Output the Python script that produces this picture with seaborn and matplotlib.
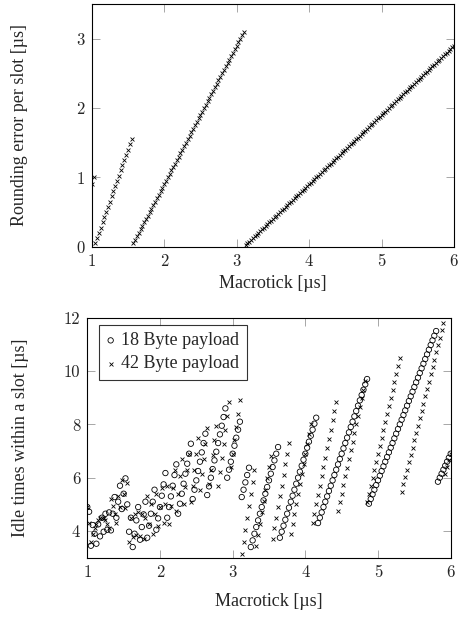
import matplotlib
matplotlib.use("Agg")
import matplotlib.pyplot as plt
import seaborn as sns
import pandas as pd

# macrotick grid (µs)
macrotick = [
    1.0, 1.025, 1.05, 1.075, 1.1, 1.125, 1.15, 1.175, 1.2, 1.225,
    1.25, 1.275, 1.3, 1.325, 1.35, 1.375, 1.4, 1.425, 1.45, 1.475,
    1.5, 1.525, 1.55, 1.575, 1.6, 1.625, 1.65, 1.675, 1.7, 1.725,
    1.75, 1.775, 1.8, 1.825, 1.85, 1.875, 1.9, 1.925, 1.95, 1.975,
    2.0, 2.025, 2.05, 2.075, 2.1, 2.125, 2.15, 2.175, 2.2, 2.225,
    2.25, 2.275, 2.3, 2.325, 2.35, 2.375, 2.4, 2.425, 2.45, 2.475,
    2.5, 2.525, 2.55, 2.575, 2.6, 2.625, 2.65, 2.675, 2.7, 2.725,
    2.75, 2.775, 2.8, 2.825, 2.85, 2.875, 2.9, 2.925, 2.95, 2.975,
    3.0, 3.025, 3.05, 3.075, 3.1, 3.125, 3.15, 3.175, 3.2, 3.225,
    3.25, 3.275, 3.3, 3.325, 3.35, 3.375, 3.4, 3.425, 3.45, 3.475,
    3.5, 3.525, 3.55, 3.575, 3.6, 3.625, 3.65, 3.675, 3.7, 3.725,
    3.75, 3.775, 3.8, 3.825, 3.85, 3.875, 3.9, 3.925, 3.95, 3.975,
    4.0, 4.025, 4.05, 4.075, 4.1, 4.125, 4.15, 4.175, 4.2, 4.225,
    4.25, 4.275, 4.3, 4.325, 4.35, 4.375, 4.4, 4.425, 4.45, 4.475,
    4.5, 4.525, 4.55, 4.575, 4.6, 4.625, 4.65, 4.675, 4.7, 4.725,
    4.75, 4.775, 4.8, 4.825, 4.85, 4.875, 4.9, 4.925, 4.95, 4.975,
    5.0, 5.025, 5.05, 5.075, 5.1, 5.125, 5.15, 5.175, 5.2, 5.225,
    5.25, 5.275, 5.3, 5.325, 5.35, 5.375, 5.4, 5.425, 5.45, 5.475,
    5.5, 5.525, 5.55, 5.575, 5.6, 5.625, 5.65, 5.675, 5.7, 5.725,
    5.75, 5.775, 5.8, 5.825, 5.85, 5.875, 5.9, 5.925, 5.95, 5.975,
    6.0,
]

# rounding error per slot (µs)
rounding_error = [
    0.9, 1.0, 0.05, 0.125, 0.2, 0.275, 0.35, 0.425, 0.5, 0.575,
    0.65, 0.725, 0.8, 0.875, 0.95, 1.025, 1.1, 1.175, 1.25, 1.325,
    1.4, 1.475, 1.55, 0.05, 0.1, 0.15, 0.2, 0.25, 0.3, 0.35,
    0.4, 0.45, 0.5, 0.55, 0.6, 0.65, 0.7, 0.75, 0.8, 0.85,
    0.9, 0.95, 1.0, 1.05, 1.1, 1.15, 1.2, 1.25, 1.3, 1.35,
    1.4, 1.45, 1.5, 1.55, 1.6, 1.65, 1.7, 1.75, 1.8, 1.85,
    1.9, 1.95, 2.0, 2.05, 2.1, 2.15, 2.2, 2.25, 2.3, 2.35,
    2.4, 2.45, 2.5, 2.55, 2.6, 2.65, 2.7, 2.75, 2.8, 2.85,
    2.9, 2.95, 3.0, 3.05, 3.1, 0.025, 0.05, 0.075, 0.1, 0.125,
    0.15, 0.175, 0.2, 0.225, 0.25, 0.275, 0.3, 0.325, 0.35, 0.375,
    0.4, 0.425, 0.45, 0.475, 0.5, 0.525, 0.55, 0.575, 0.6, 0.625,
    0.65, 0.675, 0.7, 0.725, 0.75, 0.775, 0.8, 0.825, 0.85, 0.875,
    0.9, 0.925, 0.95, 0.975, 1.0, 1.025, 1.05, 1.075, 1.1, 1.125,
    1.15, 1.175, 1.2, 1.225, 1.25, 1.275, 1.3, 1.325, 1.35, 1.375,
    1.4, 1.425, 1.45, 1.475, 1.5, 1.525, 1.55, 1.575, 1.6, 1.625,
    1.65, 1.675, 1.7, 1.725, 1.75, 1.775, 1.8, 1.825, 1.85, 1.875,
    1.9, 1.925, 1.95, 1.975, 2.0, 2.025, 2.05, 2.075, 2.1, 2.125,
    2.15, 2.175, 2.2, 2.225, 2.25, 2.275, 2.3, 2.325, 2.35, 2.375,
    2.4, 2.425, 2.45, 2.475, 2.5, 2.525, 2.55, 2.575, 2.6, 2.625,
    2.65, 2.675, 2.7, 2.725, 2.75, 2.775, 2.8, 2.825, 2.85, 2.875,
    2.9,
]

# idle time within a slot (µs), 18 byte payload
idle_18 = [
    4.9, 4.725, 3.45, 4.225, 3.9, 3.525, 4.25, 3.8, 4.5, 3.975,
    4.65, 4.05, 4.7, 4.025, 4.65, 5.275, 4.5, 5.1, 5.7, 4.825,
    5.4, 5.975, 5.0, 3.975, 4.5, 3.4, 3.9, 4.4, 4.9, 3.675,
    4.15, 4.625, 5.1, 3.75, 4.2, 4.65, 5.1, 5.55, 4.05, 4.475,
    4.9, 5.325, 5.75, 6.175, 4.5, 4.9, 5.3, 5.7, 6.1, 6.5,
    4.65, 5.025, 5.4, 5.775, 6.15, 6.525, 6.9, 7.275, 5.2, 5.55,
    5.9, 6.25, 6.6, 6.95, 7.3, 7.65, 5.35, 5.675, 6.0, 6.325,
    6.65, 6.975, 7.3, 7.625, 7.95, 8.275, 8.6, 6.0, 6.3, 6.6,
    6.9, 7.2, 7.5, 7.8, 8.1, 5.275, 5.55, 5.825, 6.1, 6.375,
    3.4, 3.65, 3.9, 4.15, 4.4, 4.65, 4.9, 5.15, 5.4, 5.65,
    5.9, 6.15, 6.4, 6.65, 6.9, 7.15, 3.75, 3.975, 4.2, 4.425,
    4.65, 4.875, 5.1, 5.325, 5.55, 5.775, 6.0, 6.225, 6.45, 6.675,
    6.9, 7.125, 7.35, 7.575, 7.8, 8.025, 8.25, 4.3, 4.5, 4.7,
    4.9, 5.1, 5.3, 5.5, 5.7, 5.9, 6.1, 6.3, 6.5, 6.7,
    6.9, 7.1, 7.3, 7.5, 7.7, 7.9, 8.1, 8.3, 8.5, 8.7,
    8.9, 9.1, 9.3, 9.5, 9.7, 5.025, 5.2, 5.375, 5.55, 5.725,
    5.9, 6.075, 6.25, 6.425, 6.6, 6.775, 6.95, 7.125, 7.3, 7.475,
    7.65, 7.825, 8.0, 8.175, 8.35, 8.525, 8.7, 8.875, 9.05, 9.225,
    9.4, 9.575, 9.75, 9.925, 10.1, 10.275, 10.45, 10.625, 10.8, 10.975,
    11.15, 11.325, 11.5, 5.85, 6.0, 6.15, 6.3, 6.45, 6.6, 6.75,
    6.9,
]

# idle time within a slot (µs), 42 byte payload
idle_42 = [
    4.9, 4.3, 3.6, 3.875, 4.1, 4.275, 4.4, 4.475, 4.5, 4.475,
    4.4, 4.275, 4.1, 5.2, 4.95, 4.65, 4.3, 5.325, 4.9, 5.9,
    5.4, 4.85, 5.8, 3.6, 4.5, 3.775, 4.65, 3.85, 4.7, 3.825,
    4.65, 3.7, 4.5, 5.3, 4.25, 5.025, 3.9, 4.65, 5.4, 4.175,
    4.9, 5.625, 4.3, 5.0, 5.7, 4.275, 4.95, 5.625, 6.3, 4.75,
    5.4, 6.05, 6.7, 5.025, 5.65, 6.275, 6.9, 5.1, 5.7, 6.3,
    6.9, 7.5, 5.55, 6.125, 6.7, 7.275, 7.85, 5.75, 6.3, 6.85,
    7.4, 7.95, 5.7, 6.225, 6.75, 7.275, 7.8, 8.325, 8.85, 6.4,
    6.9, 7.4, 7.9, 8.4, 8.9, 3.15, 3.6, 4.05, 4.5, 4.95,
    5.4, 5.85, 6.3, 3.425, 3.85, 4.275, 4.7, 5.125, 5.55, 5.975,
    6.4, 6.825, 3.7, 4.1, 4.5, 4.9, 5.3, 5.7, 6.1, 6.5,
    6.9, 7.3, 3.9, 4.275, 4.65, 5.025, 5.4, 5.775, 6.15, 6.525,
    6.9, 7.275, 7.65, 8.025, 4.3, 4.65, 5.0, 5.35, 5.7, 6.05,
    6.4, 6.75, 7.1, 7.45, 7.8, 8.15, 8.5, 8.85, 4.75, 5.075,
    5.4, 5.725, 6.05, 6.375, 6.7, 7.025, 7.35, 7.675, 8.0, 8.325,
    8.65, 8.975, 9.3, 9.625, 5.1, 5.4, 5.7, 6.0, 6.3, 6.6,
    6.9, 7.2, 7.5, 7.8, 8.1, 8.4, 8.7, 9.0, 9.3, 9.6,
    9.9, 10.2, 10.5, 5.475, 5.75, 6.025, 6.3, 6.575, 6.85, 7.125,
    7.4, 7.675, 7.95, 8.225, 8.5, 8.775, 9.05, 9.325, 9.6, 9.875,
    10.15, 10.425, 10.7, 10.975, 11.25, 11.525, 11.8, 6.15, 6.4, 6.65,
    6.9,
]

df_top = pd.DataFrame({"Macrotick": macrotick, "Error": rounding_error})
df_idle = pd.DataFrame({"Macrotick": macrotick, "Idle18": idle_18, "Idle42": idle_42})

sns.set_theme(style="ticks")
plt.rcParams["font.family"] = ["Liberation Serif", "DejaVu Serif"]

fig = plt.figure(figsize=(4.58, 6.21), dpi=100)
ax1 = fig.add_axes([0.2002, 0.6027, 0.7910, 0.3908])
ax2 = fig.add_axes([0.1906, 0.1019, 0.7934, 0.3865])

sns.scatterplot(data=df_top, x="Macrotick", y="Error", marker="x", s=8,
                color="black", linewidth=0.6, ax=ax1, legend=False)
sns.scatterplot(data=df_idle, x="Macrotick", y="Idle18", marker="o", s=15,
                facecolor="none", edgecolor="black", linewidth=0.6, ax=ax2,
                label="18 Byte payload")
sns.scatterplot(data=df_idle, x="Macrotick", y="Idle42", marker="x", s=8,
                color="black", linewidth=0.6, ax=ax2, label="42 Byte payload")

ax1.set_xlim(1, 6)
ax1.set_ylim(0, 3.5)
ax1.set_xticks([1, 2, 3, 4, 5, 6])
ax1.set_yticks([0, 1, 2, 3])
ax2.set_xlim(1, 6)
ax2.set_ylim(3, 12)
ax2.set_xticks([1, 2, 3, 4, 5, 6])
ax2.set_yticks([4, 6, 8, 10, 12])

for ax in (ax1, ax2):
    for sp in ax.spines.values():
        sp.set_visible(True)
        sp.set_linewidth(0.8)
        sp.set_color("black")
    ax.tick_params(direction="in", top=True, right=True, length=5.5,
                   width=0.6, color="0.6", labelsize=12, pad=5)
    for lab in ax.get_xticklabels() + ax.get_yticklabels():
        lab.set_fontfamily("cmr10")
    ax.set_xlabel("Macrotick [µs]", fontsize=13, va="center")

ax1.set_ylabel("Rounding error per slot [µs]", fontsize=13, va="center")
ax2.set_ylabel("Idle times within a slot [µs]", fontsize=13, va="center")
ax1.xaxis.set_label_coords(0.5, -0.15)
ax2.xaxis.set_label_coords(0.5, -0.183)
ax1.yaxis.set_label_coords(-0.198, 0.5)
ax2.yaxis.set_label_coords(-0.185, 0.5)

leg = ax2.legend(loc="upper left", bbox_to_anchor=(0.032, 0.97),
                 borderaxespad=0, fontsize=13, frameon=True, fancybox=False,
                 edgecolor="black", handlelength=0.5, handletextpad=0.35,
                 borderpad=0.4, labelspacing=0.35)
leg.get_frame().set_linewidth(0.8)

fig.savefig("out.png", dpi=100)
